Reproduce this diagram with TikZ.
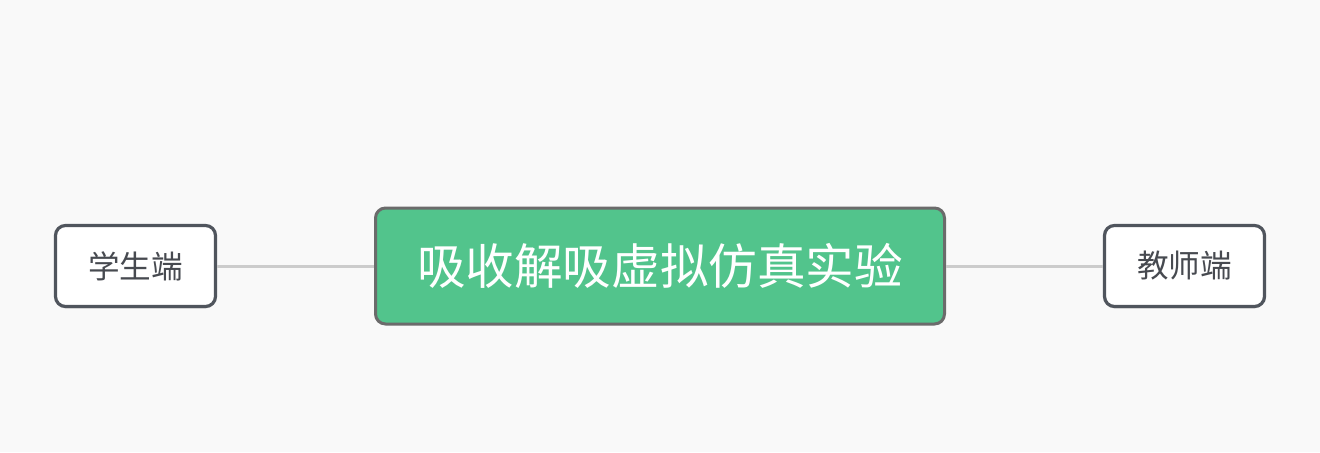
\documentclass[tikz,border=0pt]{standalone}
\usepackage{fontspec}
\usetikzlibrary{shadows}
\newfontfamily\cjk{Noto Sans CJK SC}
\definecolor{bg}{HTML}{F9F9F9}
\definecolor{rootfill}{HTML}{52C48C}
\definecolor{rootline}{HTML}{6B6B6B}
\definecolor{subline}{HTML}{50555D}
\definecolor{subtext}{HTML}{474A50}
\definecolor{link}{HTML}{CCCCCC}
\begin{document}
\begin{tikzpicture}[x=0.5pt,y=0.5pt,
  rootbox/.style={draw=rootline, fill=rootfill, line width=1.5pt, rounded corners=5pt,
    minimum width=284.5pt, minimum height=58pt, inner sep=0pt, text=white,
    font=\cjk\fontsize{24.3pt}{28pt}\selectfont},
  subbox/.style={draw=subline, fill=white, line width=1.6pt, rounded corners=5pt,
    minimum width=80pt, minimum height=40.5pt, inner sep=0pt, text=subtext,
    drop shadow={shadow xshift=0pt, shadow yshift=-1pt, opacity=0.12, fill=black},
    font=\cjk\fontsize{15.8pt}{18pt}\selectfont},
  linkline/.style={draw=link, line width=1.5pt}]
\fill[bg] (0,0) rectangle (1320,452);
\useasboundingbox (0,0) rectangle (1320,452);
\node[rootbox] (root) at (660,186) {吸收解吸虚拟仿真实验};
\node[subbox] (stu) at (135.5,186) {学生端};
\node[subbox] (tea) at (1184.5,186) {教师端};
\draw[linkline] (stu.east) -- (root.west);
\draw[linkline] (root.east) -- (tea.west);
\end{tikzpicture}
\end{document}
